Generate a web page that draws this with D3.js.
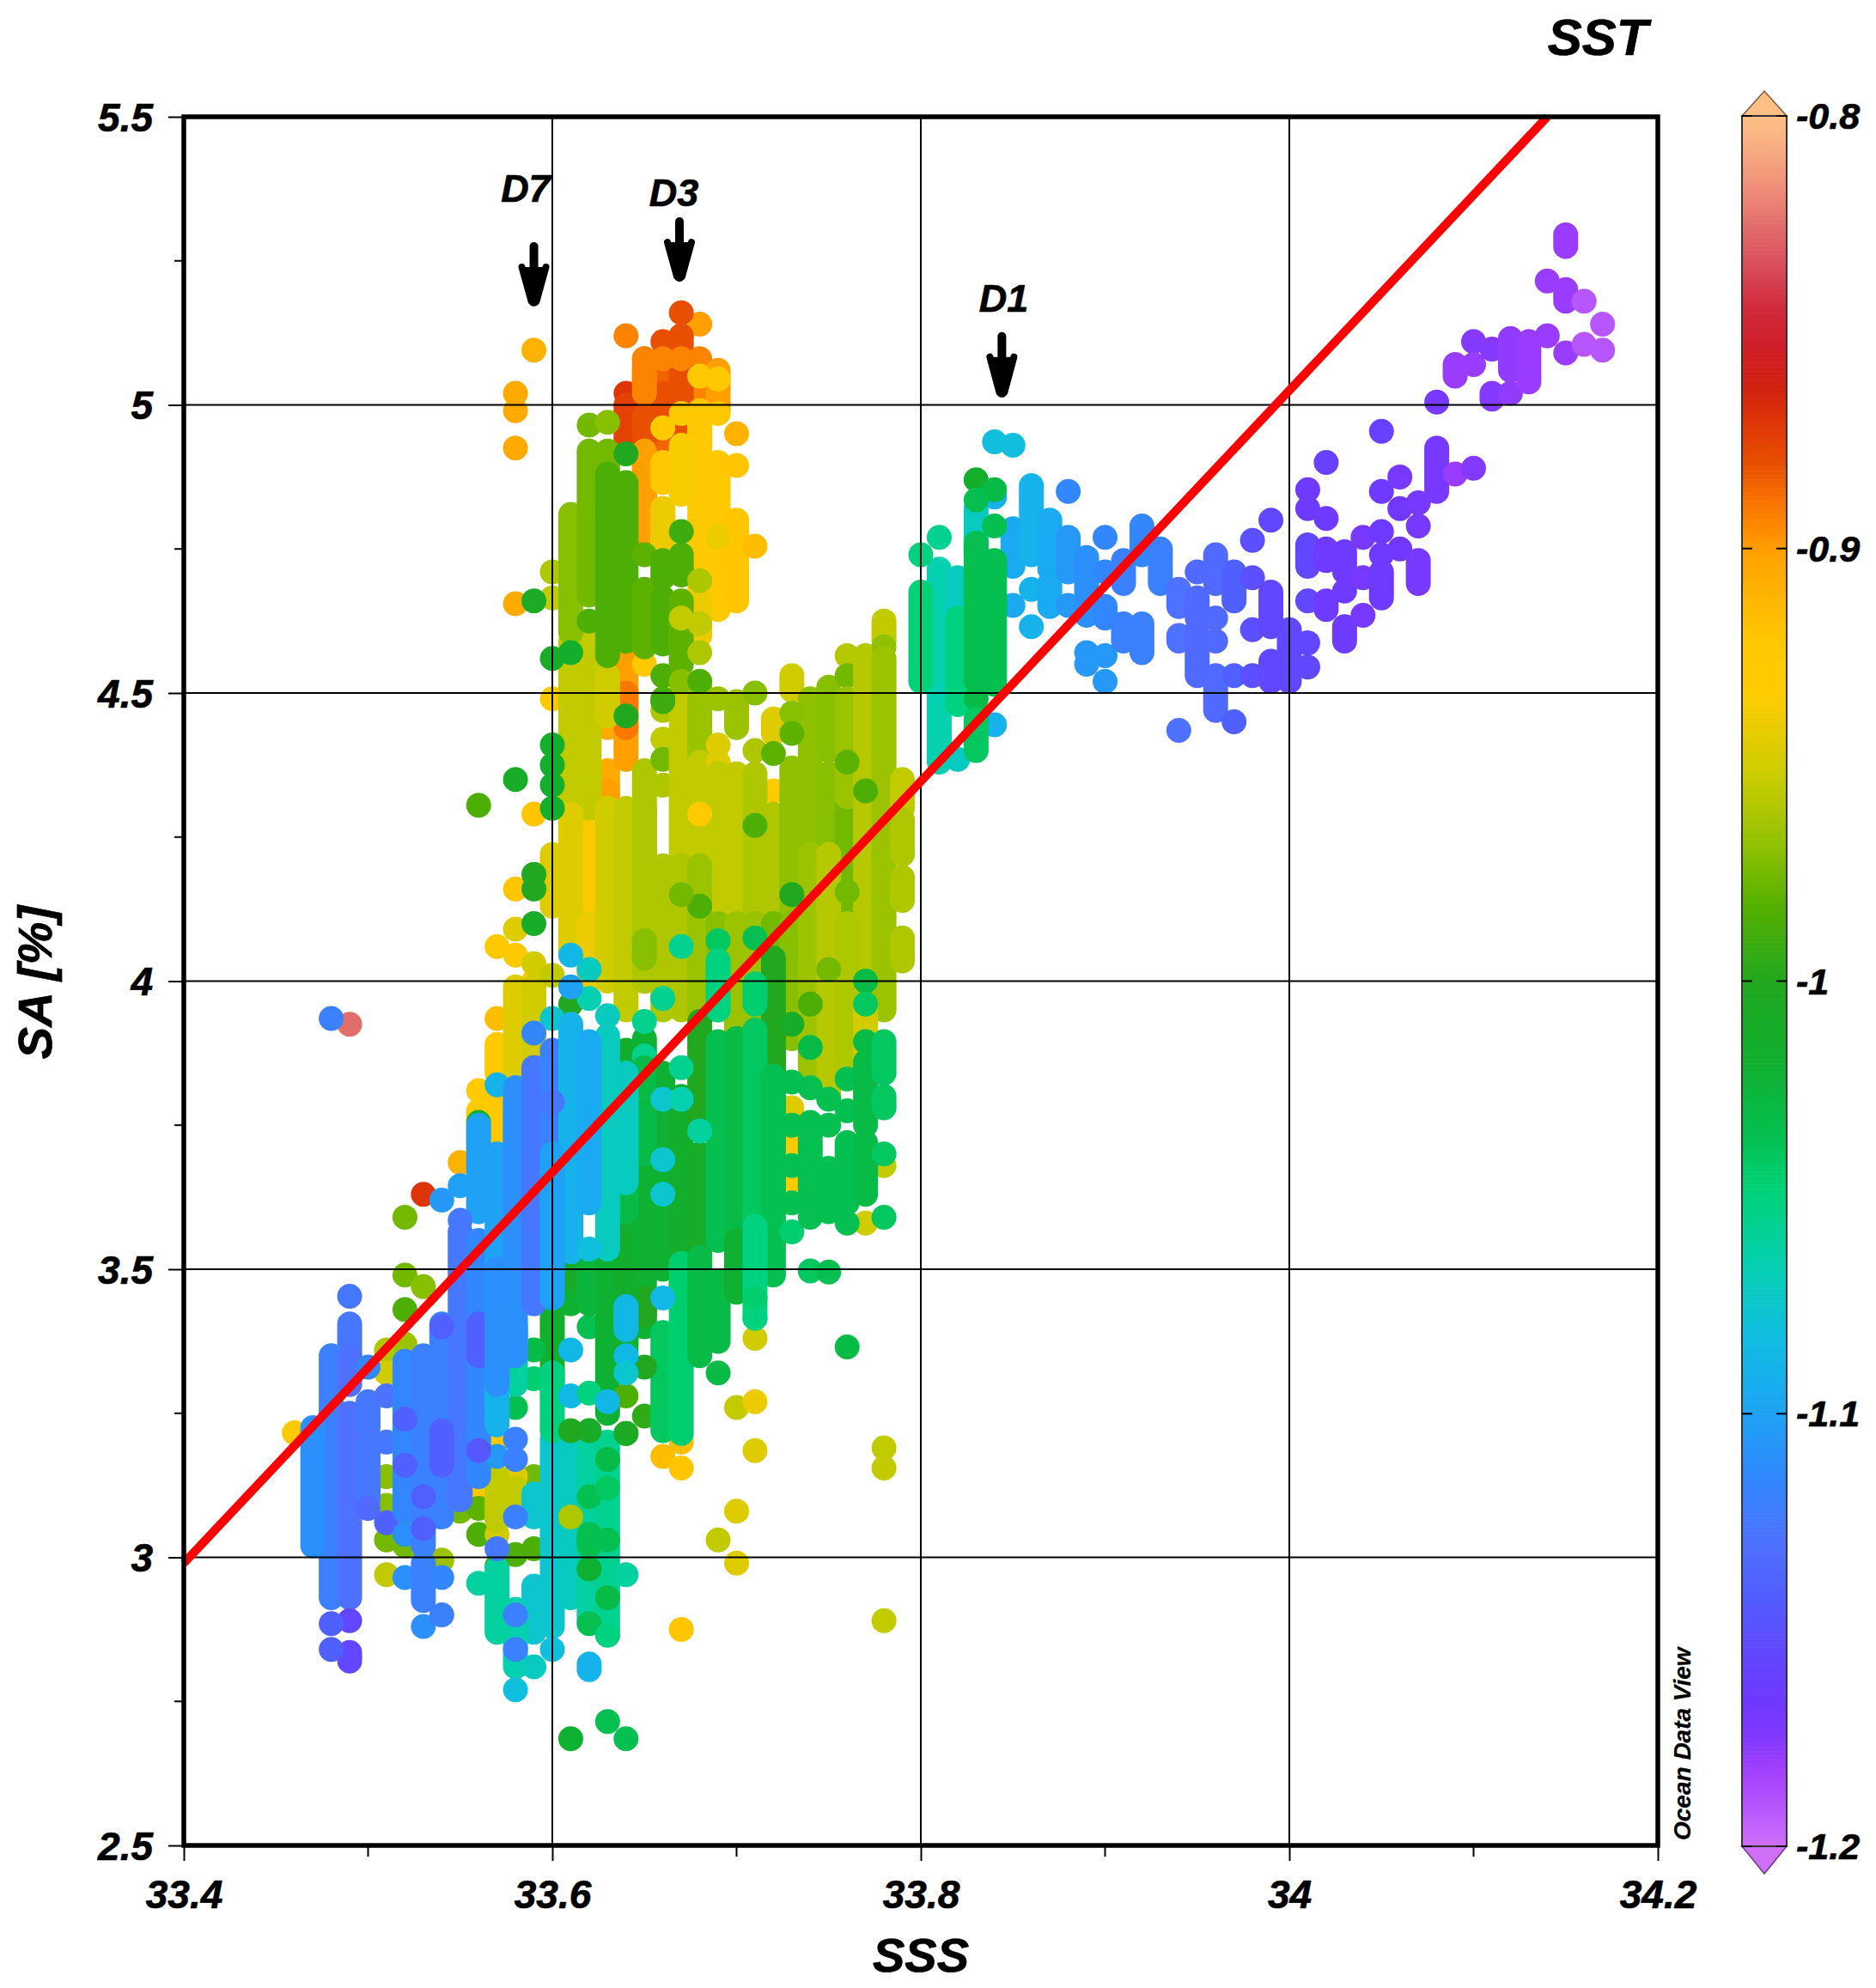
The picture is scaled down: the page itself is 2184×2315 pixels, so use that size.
<!DOCTYPE html>
<html><head><meta charset="utf-8">
<script src="https://cdnjs.cloudflare.com/ajax/libs/d3/7.8.5/d3.min.js"></script>
<style>html,body{margin:0;padding:0;background:#fff}svg{display:block}text{font-family:"Liberation Sans",Arial,sans-serif;font-weight:bold;font-style:italic;fill:#000;stroke:#000;stroke-width:0.7px}</style>
</head><body><svg id="c" width="2184" height="2315"></svg>
<script>
// colour scale
const sstStops=[-1.2,-1.194,-1.187,-1.18,-1.174,-1.167,-1.154,-1.14,-1.131,-1.114,-1.094,-1.081,-1.065,-1.048,-1.035,-1.019,-1,-0.982,-0.969,-0.953,-0.933,-0.921,-0.9,-0.897,-0.888,-0.88,-0.87,-0.862,-0.853,-0.844,-0.835,-0.826,-0.8175,-0.8085,-0.8];
const sstColors=["#d070f8","#c060ff","#b04cff","#9a3cff","#8038ff","#7038ff","#6048ff","#5060ff","#5070ff","#3088ff","#18acf0","#10bee0","#05d0b0","#00d278","#05c050","#10b030","#22a820","#55b000","#8cc000","#c8cc00","#ffcc00","#ffc800","#ffa000","#ff9400","#f87000","#e85000","#de3408","#d02010","#d01e28","#d02a3c","#d84a58","#e06a6a","#ee8a78","#f7a880","#ffbf85"];
const xTicks=[33.4,33.6,33.8,34,34.2], xMinor=[33.5,33.7,33.9,34.1];
const yTicks=[2.5,3,3.5,4,4.5,5,5.5], yMinor=[2.75,3.25,3.75,4.25,4.75,5.25];
const barTicks=[-0.8,-0.9,-1,-1.1,-1.2];
const fitSSS=[33.4,34.14], fitSA=[2.99,5.5];
const stationNames=["D7","D3","D1"], stationSSS=[33.59,33.669,33.844], arrowTop=[5.275,5.318,5.119], arrowTip=[5.177,5.22,5.019];
const labelSSS=[33.5855,33.666,33.845], labelSA=[5.352,5.345,5.162];

// each row: SSS, SST, then SA readings: a number is one dot, a pair is a solid run of dots
const orangeBack=[
[33.65,-0.893,[4.77,5.08]],[33.66,-0.885,[4.9,5.08]],[33.67,-0.88,[4.96,5.12]],[33.68,-0.893,[4.95,5.08]],[33.69,-0.9,[4.99,5.06]],
[33.64,-0.87,5.02],[33.64,-0.875,[4.93,5.0]],[33.65,-0.88,[4.93,4.98]],[33.66,-0.88,[5.0,5.02]],[33.67,-0.88,[5.0,5.06]],[33.65,-0.893,[5.02,5.06]],
[33.68,-0.9,5.14],[33.64,-0.893,5.12],[33.66,-0.88,5.11],[33.67,-0.88,5.16],[33.67,-0.88,5.12],[33.66,-0.893,5.08],[33.65,-0.893,5.08],[33.67,-0.893,5.08],
[33.63,-0.905,[4.53,4.56],4.44,[4.325,4.365]],[33.64,-0.9,[4.385,4.565]],[33.64,-0.89,[4.44,4.5]],[33.65,-0.925,4.55],[33.65,-0.9,[4.78,4.92]],
[33.63,-0.9,[4.28,4.33]],
];
const yellowBack=[
[33.59,-0.91,5.095],[33.58,-0.905,5.02,4.99,4.925,4.655],
[33.68,-0.925,5.05,[4.66,4.99]],[33.69,-0.925,5.045,4.985,[4.66,4.9]],[33.67,-0.925,4.985],[33.66,-0.925,4.96,[4.865,4.9],[4.77,4.82]],[33.7,-0.91,4.95],[33.7,-0.92,4.895,[4.66,4.8]],[33.71,-0.915,4.755],[33.69,-0.925,4.645],
[33.67,-0.935,[4.845,4.93]],[33.66,-0.94,[4.75,4.82]],[33.69,-0.94,4.77],[33.68,-0.94,[4.6,4.66]],
[33.6,-0.925,4.49],[33.59,-0.92,4.29],[33.62,-0.925,[4.1,4.3]],[33.58,-0.92,4.16],[33.57,-0.925,4.06],[33.58,-0.925,4.045],[33.59,-0.925,4.0,3.98],
[33.57,-0.915,3.935],[33.57,-0.925,[3.84,3.89],3.79,[3.72,3.76]],[33.56,-0.93,3.81,[3.68,3.775]],[33.55,-0.91,3.685],[33.46,-0.925,3.216],
[33.57,-0.925,3.205],[33.56,-0.925,3.11],[33.6,-0.92,3.28,3.23],[33.67,-0.915,3.2],[33.66,-0.915,3.175],[33.67,-0.92,3.155,2.875],
[33.68,-0.93,4.29],[33.72,-0.93,4.33],[33.73,-0.945,3.78],[33.73,-0.93,3.655,3.72],[33.76,-0.945,3.9],[33.66,-0.94,4.085],[33.63,-0.925,4.6],[33.65,-0.93,4.17],[33.7,-0.935,4.2],
[33.53,-0.87,3.63],[33.49,-0.825,3.925],
];
const oliveMid=[
[33.6,-0.96,4.71],[33.6,-0.955,4.665],[33.61,-0.955,[4.29,4.59],[4.05,4.21]],[33.62,-0.955,[4.3,4.6]],[33.63,-0.95,[4.46,4.53],4.3],[33.6,-0.945,[4.13,4.22]],[33.61,-0.945,[4.05,4.29]],[33.62,-0.94,[4.0,4.1]],[33.63,-0.95,[4.0,4.3]],[33.64,-0.955,[3.95,4.3]],[33.65,-0.96,[4.0,4.365]],
[33.58,-0.945,4.09,[3.835,3.99]],[33.59,-0.95,4.03,[3.83,3.99]],[33.6,-0.955,4.01],
[33.66,-0.955,4.42],[33.66,-0.975,4.385],[33.66,-0.96,4.34,4.47],[33.67,-0.955,[4.2,4.52]],[33.68,-0.965,[4.39,4.52]],[33.68,-0.955,[4.2,4.38]],[33.69,-0.965,4.49],[33.69,-0.945,4.41,4.38],[33.69,-0.955,[4.1,4.36]],[33.7,-0.965,[4.44,4.485]],[33.7,-0.955,[4.1,4.36]],[33.71,-0.97,4.5],[33.71,-0.96,4.4,[4.1,4.36]],[33.72,-0.945,[4.43,4.455]],[33.72,-0.96,[4.1,4.29]],[33.73,-0.95,[4.505,4.53]],[33.73,-0.968,[4.1,4.37]],[33.74,-0.968,[4.22,4.49]],[33.75,-0.97,[4.22,4.36],[4.4,4.51]],[33.76,-0.958,4.565],[33.76,-0.975,4.53,[4.0,4.3]],[33.76,-0.965,[4.32,4.49]],[33.77,-0.958,[3.9,4.565]],[33.78,-0.955,[4.59,4.625]],[33.78,-0.968,4.58],[33.78,-0.965,[3.95,4.56]],[33.79,-0.955,[4.3,4.35]],[33.79,-0.96,[4.14,4.18],[4.035,4.075],[4.22,4.28]],
[33.65,-0.96,[4.0,4.3]],[33.66,-0.96,[3.95,4.2]],[33.67,-0.96,[3.95,4.2]],[33.68,-0.965,[3.95,4.2]],[33.69,-0.97,[3.95,4.1]],[33.7,-0.965,[3.9,4.1]],[33.71,-0.965,[3.8,4.1]],[33.72,-0.975,[3.8,4.1]],[33.73,-0.97,[3.9,4.1]],[33.74,-0.965,[3.85,4.22]],[33.75,-0.958,[3.8,4.22]],[33.76,-0.96,[3.85,4.1]],[33.77,-0.95,[3.8,3.95]],[33.78,-0.955,3.68],[33.77,-0.95,3.58],
[33.52,-0.975,3.49],[33.53,-0.97,3.47],[33.52,-0.985,3.43],[33.51,-0.96,3.36],[33.52,-0.965,3.37],[33.51,-0.95,3.32],[33.51,-0.97,3.14,3.09],[33.51,-0.975,3.03],[33.51,-0.955,2.97],[33.52,-0.975,[3.02,3.07]],[33.53,-0.97,3.01],[33.54,-0.965,2.995],[33.55,-0.975,3.08],[33.56,-0.98,3.085],[33.56,-0.985,3.04],[33.57,-0.95,3.04],[33.57,-0.98,2.95],[33.57,-0.985,2.985],[33.58,-0.985,3.005],[33.59,-0.985,3.015],[33.59,-0.975,3.14],[33.6,-0.975,3.11],[33.6,-0.96,2.96],[33.58,-0.945,3.14],[33.57,-0.955,[3.065,3.14]],[33.58,-0.955,[3.08,3.12]],[33.52,-0.975,3.59],
[33.71,-0.95,3.38],[33.7,-0.955,3.26],[33.71,-0.94,3.27],[33.71,-0.945,3.185],[33.7,-0.945,3.08,2.99],[33.69,-0.955,3.03],[33.78,-0.955,3.19,3.155,2.89],
];
const greenMid=[
[33.61,-0.97,[4.605,4.81]],[33.62,-0.975,4.965,[4.67,4.92]],[33.62,-0.985,4.625],[33.63,-0.97,4.97],[33.63,-0.975,[4.8,4.92]],[33.63,-0.985,[4.565,4.88]],[33.64,-0.985,[4.59,4.865]],[33.64,-1,4.915],[33.65,-0.98,4.74,[4.58,4.68]],[33.66,-0.985,[4.7,4.73],[4.585,4.665],4.53,4.49],[33.66,-0.99,4.485],[33.67,-0.985,[4.705,4.74]],[33.67,-0.99,4.78],[33.67,-0.98,[4.55,4.66]],[33.67,-0.97,4.52],[33.68,-0.985,4.52],[33.68,-0.96,4.695,4.57],[33.68,-0.955,4.62],[33.67,-0.955,4.63],
[33.6,-1.01,4.56],[33.61,-1.015,4.57],[33.59,-1.005,4.66],[33.6,-1.015,4.41,4.375,4.34,4.3],[33.58,-1.01,4.35],[33.56,-0.985,4.305],[33.64,-1,4.46],[33.59,-1,4.185,4.16],[33.59,-1.01,4.1],[33.61,-1,3.96],
[33.71,-0.985,4.27],[33.72,-0.98,4.395],[33.73,-0.97,4.465],[33.73,-0.98,4.43],[33.76,-0.98,4.38],[33.77,-0.985,4.33],[33.73,-1,4.15],[33.76,-0.975,4.155],[33.68,-0.985,4.13],[33.67,-0.975,4.15],[33.65,-0.97,[4.04,4.07]],[33.74,-0.975,3.96],[33.74,-0.985,3.96],[33.75,-0.975,4.02],
[33.56,-1.015,3.755],[33.64,-1.015,[3.35,3.88]],[33.65,-1.02,[3.4,3.9]],[33.66,-1.02,[3.5,3.84]],[33.67,-1.015,[3.45,3.8]],[33.68,-1.01,[3.5,3.7]],[33.68,-1,[3.75,3.93]],[33.7,-1.01,[3.72,3.9]],[33.72,-1.0,[3.8,4.04]],[33.73,-1.01,3.925],[33.72,-1.01,[3.6,3.8]],
[33.69,-1.04,4.07],[33.69,-1.05,[3.95,4.035]],[33.69,-1.035,[3.55,3.895]],[33.7,-1.03,[3.55,3.9]],[33.71,-1.035,4.075],[33.71,-1.045,[3.96,3.995]],[33.71,-1.04,[3.48,3.915]],[33.72,-1.035,[3.49,3.835]],[33.73,-1.035,3.825,3.75,3.68,3.615],[33.73,-1.045,3.565],[33.74,-1.035,3.815,[3.695,3.755],[3.615,3.675],3.59],[33.74,-1.04,3.497],[33.75,-1.035,3.795,3.75,[3.6,3.675],3.495],[33.76,-1.035,3.83,3.775,[3.615,3.72],3.58],[33.77,-1.03,4.0,3.895,[3.75,3.86],[3.63,3.72]],[33.77,-1.04,3.96],[33.78,-1.04,[3.84,3.895],[3.78,3.8],3.7,3.59],[33.76,-1.03,3.365],[33.74,-1.03,3.885],
[33.6,-1.015,[3.29,3.63]],[33.61,-1.01,[3.47,3.63]],[33.61,-1.02,3.44],[33.62,-1.035,3.4],[33.62,-1.025,[3.44,3.5]],[33.63,-1.02,[3.25,3.52]],[33.64,-0.985,3.28],[33.64,-1.0,3.215],[33.65,-1.0,[3.42,3.45]],[33.65,-0.995,3.245],[33.66,-1.04,[3.22,3.39]],[33.67,-1.045,[3.215,3.51]],[33.68,-1.03,[3.35,3.52]],[33.69,-1.03,[3.375,3.48],3.32],[33.7,-1.02,[3.46,3.55]],[33.71,-1.05,[3.415,3.575]],[33.71,-1.05,3.415],[33.71,-1.045,3.45],[33.65,-1.0,3.33],[33.64,-1.015,[3.37,3.5]],[33.59,-1.03,3.36],[33.59,-1.045,3.31],[33.58,-1.035,3.31,3.26],
[33.66,-1.055,3.97],[33.67,-1.055,4.06],[33.65,-1.055,3.93,3.87],[33.67,-1.055,3.85],
[33.64,-1.03,[3.6,3.7]],[33.65,-1.03,[3.7,3.85]],
];
const tealLow=[
[33.63,-1.07,3.94,[3.535,3.905]],[33.64,-1.07,[3.65,3.84]],[33.66,-1.075,3.795,3.69,3.63],[33.67,-1.065,3.795],[33.68,-1.06,3.74],[33.62,-1.07,4.02],[33.62,-1.065,3.97],[33.6,-1.075,3.935],[33.61,-1.085,4.045],
[33.6,-1.075,[2.88,3.205]],[33.59,-1.075,[3.07,3.11],[2.87,2.95]],[33.58,-1.065,[2.81,2.91]],[33.58,-1.08,2.77],[33.57,-1.06,[2.87,2.98]],[33.56,-1.06,2.955],[33.59,-1.07,2.81],[33.6,-1.08,2.84],[33.61,-1.07,[2.93,3.19]],[33.62,-1.06,[2.89,3.22]],[33.63,-1.055,[2.865,3.2]],[33.64,-1.06,2.97],[33.62,-1.09,[2.805,2.815]],
[33.6,-1.05,[3.22,3.32]],[33.61,-1.085,3.36,3.28],[33.62,-1.05,3.285],[33.63,-1.085,3.27],[33.64,-1.085,[3.395,3.435],3.35],[33.64,-1.075,3.32],[33.66,-1.085,3.45],[33.58,-1.06,[3.3,3.4]],
[33.62,-1.01,3.22],[33.62,-1.035,3.105,[3.02,3.04],2.885],[33.62,-1.02,2.98],[33.63,-1.03,3.17,2.93],[33.63,-1.04,3.12],[33.63,-1.035,3.03],[33.63,-1.05,2.865],[33.61,-1,3.22],[33.61,-0.96,3.07],[33.61,-1.02,2.685],[33.63,-1.035,2.715],[33.64,-1.035,2.685],[33.64,-1.005,3.215],
[33.81,-1.055,4.77],[33.81,-1.065,[4.38,4.715]],[33.82,-1.07,[4.63,4.7],4.385],[33.8,-1.05,4.74],[33.8,-1.048,[4.52,4.675]],[33.83,-1.07,[4.74,4.82]],[33.84,-1.09,4.84],[33.84,-1.09,4.445],[33.84,-1.08,4.936],[33.85,-1.08,4.93],
];
const blueLow=[
[33.85,-1.095,[4.72,4.785],4.652],[33.86,-1.09,[4.81,4.86],[4.74,4.79],4.68,4.615],[33.87,-1.095,[4.715,4.8],[4.65,4.69]],[33.88,-1.115,4.85],[33.88,-1.105,[4.71,4.77],4.652],[33.89,-1.11,[4.635,4.735]],[33.89,-1.105,4.57,4.55],[33.9,-1.115,4.77,4.71,[4.63,4.65]],[33.9,-1.105,4.565,4.52],[33.91,-1.12,[4.69,4.73],[4.59,4.62]],[33.92,-1.115,[4.74,4.79]],[33.92,-1.12,[4.57,4.62]],[33.93,-1.12,[4.69,4.75]],[33.94,-1.13,[4.65,4.68],[4.59,4.6],4.435],[33.95,-1.135,4.71,[4.63,4.665],[4.53,4.61]],[33.96,-1.135,[4.69,4.74],4.63,4.59,[4.47,4.53]],[33.97,-1.14,[4.66,4.71],4.53,4.45],[33.98,-1.15,4.765,4.7,4.61,4.53],[33.99,-1.155,4.8,[4.615,4.675],[4.52,4.555]],[34,-1.155,[4.52,4.61]],[34.01,-1.165,4.853,4.82],[34.01,-1.155,[4.72,4.757],4.66,4.587,4.545],[34.02,-1.16,4.9],[34.02,-1.165,4.803,[4.73,4.75],[4.645,4.66]],[34.03,-1.165,[4.71,4.745],4.677,[4.59,4.615]],[34.04,-1.17,4.77,4.7,4.635],[34.05,-1.16,4.954],[34.05,-1.165,4.85,4.78,4.74,[4.665,4.71]],[34.06,-1.17,4.875],[34.06,-1.168,4.82,4.75],[34.07,-1.17,4.83,4.79,[4.69,4.73]],[34.08,-1.17,5.005,[4.85,4.925]],[34.09,-1.18,4.88,[5.05,5.07]],[34.1,-1.175,4.89,5.11],[34.1,-1.18,5.07],[34.11,-1.175,5.097,[5.01,5.02]],[34.12,-1.178,[5.06,5.115],5.02],[34.13,-1.18,[5.04,5.11]],[34.14,-1.18,5.12,5.215],[34.15,-1.18,[5.275,5.295],[5.18,5.2],5.09],[34.16,-1.19,5.18,5.105],[34.17,-1.19,5.14,5.095],
[33.48,-1.12,3.935],
[33.49,-1.125,3.453,[3.35,3.405]],[33.48,-1.12,[2.93,3.35]],[33.49,-1.13,[3.3,3.35],[2.93,3.25]],[33.49,-1.155,2.89,[2.82,2.835]],[33.48,-1.14,2.885,2.84],[33.47,-1.11,[3.02,3.225]],[33.5,-1.115,3.33],[33.5,-1.125,[3.225,3.27],[3.1,3.19]],[33.5,-1.135,3.085],[33.51,-1.13,3.28],[33.51,-1.125,3.2],[33.51,-1.14,3.06],
[33.52,-1.115,[3.08,3.34]],[33.52,-1.11,3.04,2.965],[33.53,-1.12,[3.02,3.35],[2.925,2.99]],[33.53,-1.11,2.88],[33.54,-1.12,[3.07,3.405],2.9],[33.54,-1.115,2.965],[33.55,-1.125,[3.1,3.565]],[33.54,-1.105,3.62],[33.55,-1.1,3.645],[33.56,-1.115,[3.14,3.55]],[33.56,-1.09,3.61],[33.57,-1.09,3.82,[3.23,3.51]],[33.58,-1.09,[3.43,3.815]],[33.57,-1.1,[3.51,3.7]],[33.56,-1.1,[3.6,3.75]],[33.55,-1.125,3.585],[33.58,-1.11,[3.35,3.815]],[33.59,-1.125,[3.44,3.85]],[33.59,-1.115,3.91],[33.6,-1.12,[3.47,3.88]],[33.61,-1.09,[3.53,3.925]],[33.62,-1.095,[3.615,3.895]],[33.62,-1.08,3.535],[33.57,-1.105,3.175],[33.58,-1.12,3.205,3.17,3.07,2.9,2.84],[33.57,-1.125,3.015],
[33.54,-1.14,3.4,[3.16,3.22]],[33.53,-1.14,3.105,3.05],[33.52,-1.14,3.24,3.16],[33.56,-1.14,[3.35,3.405]],[33.56,-1.145,3.185],[33.6,-1.125,3.79,3.65],[33.57,-1.11,[3.3,3.5]],[33.6,-1.1,[3.45,3.7]],
[33.61,-1.1,3.99],
];
const topAccents=[
[33.83,-1.015,4.87],[33.84,-1.03,4.853],[33.83,-1.035,4.835],[33.84,-1.035,4.79],[33.82,-1.05,[4.48,4.63]],[33.83,-1.035,[4.52,4.76]],[33.83,-1.03,4.49],[33.83,-1.04,[4.4,4.455]],[33.84,-1.035,[4.515,4.73]],
[33.68,-0.93,4.29],
];
const rows=[...orangeBack,...yellowBack,...oliveMid,...greenMid,...tealLow,...blueLow,...topAccents];

const R=14.5;
const svg=d3.select("#c");
const x=d3.scaleLinear().domain([33.4,34.2]).range([214,1930]);
const y=d3.scaleLinear().domain([2.5,5.5]).range([2149,136]);
const color=d3.scaleLinear().domain(sstStops).range(sstColors).clamp(true);

const marks=rows.flatMap(r=>r.slice(2).map(v=>{
  const lo=Array.isArray(v)?v[0]:v, hi=Array.isArray(v)?v[1]:v;
  return {sss:r[0],sst:r[1],lo,hi};
}));
svg.append("g").selectAll("rect").data(marks).join("rect")
  .attr("x",d=>x(d.sss)-R).attr("width",2*R)
  .attr("y",d=>y(d.hi)-R).attr("height",d=>y(d.lo)-y(d.hi)+2*R)
  .attr("rx",R).attr("ry",R).attr("fill",d=>color(d.sst));

// grid
const grid=svg.append("g").attr("stroke","#000").attr("stroke-width",2);
grid.selectAll(".gx").data(xTicks.slice(1,-1)).join("line").attr("x1",x).attr("x2",x).attr("y1",y(5.5)).attr("y2",y(2.5));
grid.selectAll(".gy").data(yTicks.slice(1,-1)).join("line").attr("class","gy").attr("x1",x(33.4)).attr("x2",x(34.2)).attr("y1",y).attr("y2",y);

// regression line
svg.append("path").datum(d3.zip(fitSSS,fitSA)).attr("fill","none").attr("stroke","#ff0000").attr("stroke-width",10)
  .attr("d",d3.line().x(d=>x(d[0])).y(d=>y(d[1])));

// axes
const xAxis=d3.axisBottom(x).tickValues(xTicks).tickSize(18).tickPadding(20).tickFormat(d3.format("~g"));
const yAxis=d3.axisLeft(y).tickValues(yTicks).tickSize(18).tickPadding(16).tickFormat(d3.format("~g"));
const gx=svg.append("g").attr("transform",`translate(0,${y(2.5)})`).call(xAxis);
const gy=svg.append("g").attr("transform",`translate(${x(33.4)},0)`).call(yAxis);
[gx,gy].forEach(g=>{g.select(".domain").remove();g.selectAll(".tick line").attr("stroke","#000").attr("stroke-width",2);g.selectAll("text").style("font-size","46px").style("font-family",'"Liberation Sans"');});
gx.selectAll("text").attr("y",null).attr("dy",null).attr("transform",null).attr("y",73);
gy.selectAll("text").attr("dy",null).attr("y",16).attr("x",-36);
svg.append("g").selectAll("line").data(xMinor).join("line").attr("x1",x).attr("x2",x).attr("y1",y(2.5)).attr("y2",y(2.5)+13).attr("stroke","#000").attr("stroke-width",2);
svg.append("g").selectAll("line").data(yMinor).join("line").attr("y1",y).attr("y2",y).attr("x1",x(33.4)).attr("x2",x(33.4)-11).attr("stroke","#000").attr("stroke-width",2);
svg.append("rect").attr("x",x(33.4)).attr("y",y(5.5)).attr("width",x(34.2)-x(33.4)).attr("height",y(2.5)-y(5.5)).attr("fill","none").attr("stroke","#000").attr("stroke-width",5.5);

// titles
svg.append("text").attr("x",1072).attr("y",2296).attr("text-anchor","middle").style("font-size","56px").text("SSS");
svg.append("text").attr("transform","translate(60,1144) rotate(-90)").attr("text-anchor","middle").style("font-size","56px").text("SA [%]");
svg.append("text").attr("x",1860).attr("y",64).attr("text-anchor","middle").style("font-size","60px").text("SST");
svg.append("text").attr("transform","translate(1968,2143) rotate(-90)").style("font-size","28px").style("stroke-width","0.2px").text("Ocean Data View");

// station arrows and names
const arrows=svg.append("g");
stationNames.forEach((n,i)=>{
  const ax=x(stationSSS[i]),t=y(arrowTop[i]),b=y(arrowTip[i]);
  arrows.append("line").attr("x1",ax).attr("x2",ax).attr("y1",t).attr("y2",b-6).attr("stroke","#000").attr("stroke-width",10).attr("stroke-linecap","round");
  arrows.append("path").attr("d",`M${ax-14},${t+24} L${ax-3},${b-2} Q${ax},${b+2} ${ax+3},${b-2} L${ax+14},${t+24}`).attr("fill","#000").attr("stroke","#000").attr("stroke-width",8).attr("stroke-linejoin","round").attr("stroke-linecap","round");
  svg.append("text").attr("x",x(labelSSS[i])).attr("y",y(labelSA[i])).attr("text-anchor","middle").style("font-size","45px").text(n);
});

// colour bar
const barX=2028,barW=52;
const bar=d3.scaleLinear().domain([-0.8,-1.2]).range([135,2150]);
const bandVals=d3.range(0,400).map(i=>-0.8-i*0.001);
const cb=svg.append("g");
cb.selectAll("rect").data(bandVals).join("rect").attr("x",barX).attr("width",barW)
  .attr("y",d=>bar(d)).attr("height",d=>bar(d-0.001)-bar(d)+0.6).attr("fill",d=>color(d));
svg.append("path").attr("d",`M${barX},135 L${barX+26},106 L${barX+52},135 Z`).attr("fill",color(-0.8)).attr("stroke","#7a5a40").attr("stroke-width",1.5);
svg.append("path").attr("d",`M${barX},2150 L${barX+26},2182 L${barX+52},2150 Z`).attr("fill",color(-1.2)).attr("stroke","#6a3a80").attr("stroke-width",1.5);
svg.append("rect").attr("x",barX).attr("y",135).attr("width",barW).attr("height",2015).attr("fill","none").attr("stroke","#333").attr("stroke-width",2);
const bt=svg.append("g").selectAll("g").data(barTicks).join("g").attr("transform",d=>`translate(0,${bar(d)})`);
bt.append("line").attr("x1",barX).attr("x2",barX+12).attr("stroke","#000").attr("stroke-width",2);
bt.append("line").attr("x1",barX+40).attr("x2",barX+52).attr("stroke","#000").attr("stroke-width",2);
bt.append("text").attr("x",2091).attr("y",15).style("font-size","43px").text(d=>d3.format("~g")(d).replace("−","-"));
</script></body></html>
